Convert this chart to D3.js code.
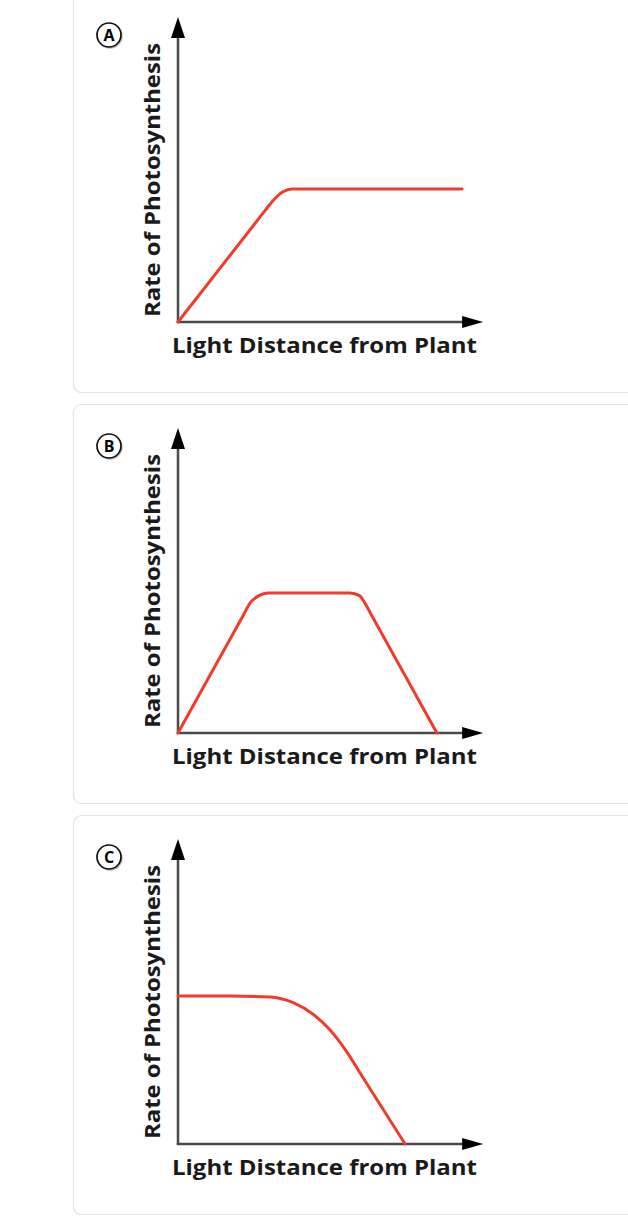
<!DOCTYPE html>
<html>
<head>
<meta charset="utf-8">
<script src="https://cdn.jsdelivr.net/npm/d3@7"></script>
<style>
  html, body { margin: 0; padding: 0; background: #fff; }
  svg { display: block; }
</style>
</head>
<body>
<div id="chart"></div>
<script>
// panel letters and curves (x = light distance, y = rate, both 0..100)
var panelLabels = ["A", "B", "C"];
var xTitle = "Light Distance from Plant";
var yTitle = "Rate of Photosynthesis";

var curveA = [[0, 0], [29, 37.1], [31.3, 40], [35, 43.4], [38, 44.3], [94.7, 44.3]];
var curveB = [[0, 0], [22, 39.7], [24, 43.3], [27, 45.8], [30, 46.7], [57.3, 46.7],
              [60.5, 45.8], [62.3, 43.3], [64.3, 39.7], [86.3, 0]];
var curveC = [[0, 49.3], [17.3, 49.3], [30.7, 49.0], [38.4, 47.1], [45.1, 43.2],
              [50.7, 38.0], [56.2, 30.8], [61.8, 21.9], [75.7, 0]];
var curves = [curveA, curveB, curveC];

var AXIS_MAX = 101.7;

///////////////
// CONSTANTS //
///////////////
var WIDTH = 628;
var HEIGHT = 1216;
var PANEL_STEP = 411;
var ORIGIN_X = 178;
var ORIGIN_Y = 322;
var ARROW_LEN = 21;
var ARROW_HALF = 7;
var AXIS_COLOR = "#4a4a4a";
var LINE_COLOR = "#f03c2e";
var TEXT_COLOR = "#1a1a1a";
var FONT = "'Open Sans', 'DejaVu Sans', sans-serif";

var svg = d3.select("#chart").append("svg")
  .attr("width", WIDTH)
  .attr("height", HEIGHT);

var x = d3.scaleLinear().domain([0, 100]).range([ORIGIN_X, ORIGIN_X + 300]);
var y = d3.scaleLinear().domain([0, 100]).range([0, -300]);

var line = d3.line()
  .x(function(d) { return x(d[0]); })
  .y(function(d) { return y(d[1]); })
  .curve(d3.curveMonotoneX);

panelLabels.forEach(function(label, i) {
  var oy = ORIGIN_Y + i * PANEL_STEP;

  // card
  svg.append("rect")
    .attr("x", 73.5)
    .attr("y", oy - 328.5)
    .attr("width", 620)
    .attr("height", 399)
    .attr("rx", 8)
    .attr("fill", "#fff")
    .attr("stroke", "#e3e3e3")
    .attr("stroke-width", 1.2);

  var g = svg.append("g").attr("transform", "translate(0," + oy + ")");

  // y axis + arrow
  var yTop = y(AXIS_MAX);
  g.append("line")
    .attr("x1", x(0)).attr("y1", y(0))
    .attr("x2", x(0)).attr("y2", yTop + ARROW_LEN - 2)
    .attr("stroke", AXIS_COLOR)
    .attr("stroke-width", 2.5);
  g.append("path")
    .attr("d", "M" + x(0) + "," + yTop +
      "L" + (x(0) + ARROW_HALF) + "," + (yTop + ARROW_LEN) +
      "L" + (x(0) - ARROW_HALF) + "," + (yTop + ARROW_LEN) + "Z")
    .attr("fill", "#000");

  // x axis + arrow
  var xEnd = x(AXIS_MAX);
  g.append("line")
    .attr("x1", x(0) - 1.25).attr("y1", y(0))
    .attr("x2", xEnd - ARROW_LEN + 2).attr("y2", y(0))
    .attr("stroke", AXIS_COLOR)
    .attr("stroke-width", 2.5);
  g.append("path")
    .attr("d", "M" + xEnd + "," + y(0) +
      "L" + (xEnd - ARROW_LEN) + "," + (y(0) - ARROW_HALF + 1) +
      "L" + (xEnd - ARROW_LEN) + "," + (y(0) + ARROW_HALF - 1) + "Z")
    .attr("fill", "#000");

  // curve
  g.append("path")
    .datum(curves[i])
    .attr("d", line)
    .attr("fill", "none")
    .attr("stroke", LINE_COLOR)
    .attr("stroke-width", 3)
    .attr("stroke-linecap", "round");

  // titles
  g.append("text")
    .attr("x", 324.5)
    .attr("y", 31)
    .attr("text-anchor", "middle")
    .attr("font-family", FONT)
    .attr("font-weight", 700)
    .attr("font-size", 22)
    .attr("fill", TEXT_COLOR)
    .attr("textLength", 305)
    .attr("lengthAdjust", "spacingAndGlyphs")
    .text(xTitle);

  g.append("text")
    .attr("transform", "translate(160," + (-142) + ") rotate(-90)")
    .attr("text-anchor", "middle")
    .attr("font-family", FONT)
    .attr("font-weight", 700)
    .attr("font-size", 22)
    .attr("fill", TEXT_COLOR)
    .attr("textLength", 274)
    .attr("lengthAdjust", "spacingAndGlyphs")
    .text(yTitle);

  // panel letter (with faint offset ring like the original)
  g.append("circle")
    .attr("cx", 110)
    .attr("cy", -286)
    .attr("r", 12)
    .attr("fill", "none")
    .attr("stroke", "#bbb")
    .attr("stroke-width", 1.4);
  g.append("circle")
    .attr("cx", 109)
    .attr("cy", -287)
    .attr("r", 12)
    .attr("fill", "#fff")
    .attr("stroke", "#111")
    .attr("stroke-width", 1.7);
  g.append("text")
    .attr("x", 109)
    .attr("y", -287)
    .attr("dy", "0.36em")
    .attr("text-anchor", "middle")
    .attr("font-family", FONT)
    .attr("font-weight", 700)
    .attr("font-size", 16)
    .attr("fill", "#000")
    .text(label);
});
</script>
</body>
</html>
